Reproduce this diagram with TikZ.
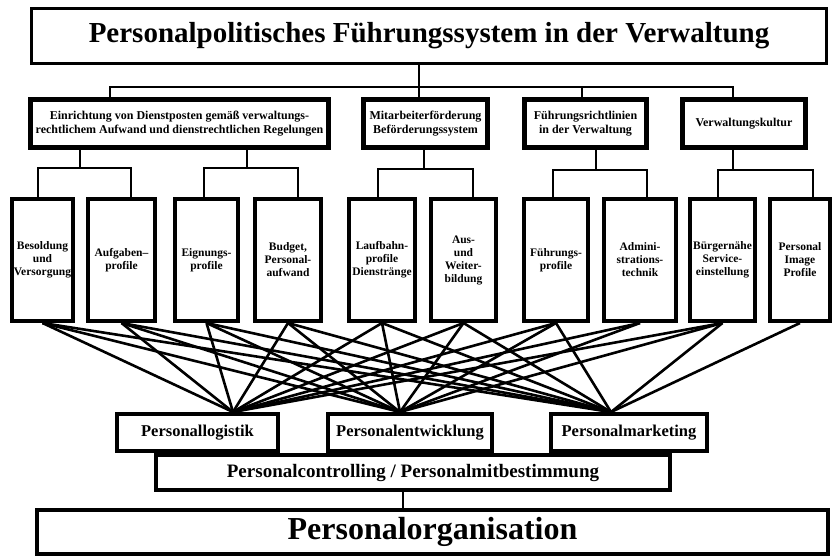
\documentclass[tikz,border=0pt]{standalone}
\usepackage{fontspec}
\setmainfont{Liberation Serif}
\begin{document}
\begin{tikzpicture}[x=1pt,y=-1pt,
  box/.style={draw, fill=white, inner sep=0pt, align=center, font=\bfseries},
  tall/.style={box, line width=4pt, minimum height=122pt, font=\fontsize{11.5}{13}\selectfont\bfseries},
  grp/.style={box, line width=5pt, minimum height=48pt, font=\fontsize{12}{14}\selectfont\bfseries},
  low/.style={box, line width=4pt, minimum height=37pt, font=\fontsize{16.5}{18}\selectfont\bfseries},
  br/.style={line width=1.2pt},
  net/.style={line width=2.6pt},
]
\useasboundingbox (0,0) rectangle (838,558);

% title
\node[box, line width=3pt, minimum width=795pt, minimum height=55pt,
      font=\fontsize{29}{32}\selectfont\bfseries] (title) at (429,36)
      {Personalpolitisches Führungssystem in der Verwaltung};

% group boxes
\node[grp, minimum width=298pt] (g1) at (179.5,123.5)
  {Einrichtung von Dienstposten gemäß verwaltungs-\\rechtlichem Aufwand und dienstrechtlichen Regelungen};
\node[grp, minimum width=124pt] (g2) at (425.5,123.5) {Mitarbeiterförderung\\Beförderungssystem};
\node[grp, minimum width=122pt] (g3) at (585.5,123.5) {Führungsrichtlinien\\in der Verwaltung};
\node[grp, minimum width=123pt] (g4) at (744,123.5) {Verwaltungskultur};

% tall boxes
\node[tall, minimum width=61pt] (b1) at (42.5,260) {Besoldung\\und\\Versorgung};
\node[tall, minimum width=67pt] (b2) at (121.5,260) {Aufgaben--\\profile};
\node[tall, minimum width=63pt] (b3) at (206.5,260) {Eignungs-\\profile};
\node[tall, minimum width=66pt] (b4) at (288,260) {Budget,\\Personal-\\aufwand};
\node[tall, minimum width=66pt] (b5) at (382,260) {Laufbahn-\\profile\\Dienstränge};
\node[tall, minimum width=65pt] (b6) at (463.5,260) {Aus-\\und\\Weiter-\\bildung};
\node[tall, minimum width=64pt] (b7) at (556,260) {Führungs-\\profile};
\node[tall, minimum width=72pt] (b8) at (640,260) {Admini-\\strations-\\technik};
\node[tall, minimum width=65pt] (b9) at (722.5,260) {Bürgernähe\\Service-\\einstellung};
\node[tall, minimum width=60pt] (b10) at (800,260) {Personal\\Image\\Profile};

% title -> groups
\coordinate (t0) at (419,87);
\coordinate (d1) at ([xshift=-69.5pt]g1.north);
\coordinate (d3) at ([xshift=-3.5pt]g3.north);
\coordinate (d4) at ([xshift=-11pt]g4.north);
\draw[br] (title.south -| t0) -- (t0 |- g2.north);
\draw[br] (d1) |- (d4 |- t0) -- (d4);
\draw[br] (d3) -- (d3 |- t0);

% groups -> tall boxes
\coordinate (j1) at (80,168);
\coordinate (j2) at (247,168);
\coordinate (j3) at (424,169);
\coordinate (j4) at (596,170);
\coordinate (j5) at (733,170);
\draw[br] (j1 |- g1.south) -- (j1);
\draw[br] (j2 |- g1.south) -- (j2);
\draw[br] (j3 |- g2.south) -- (j3);
\draw[br] (j4 |- g3.south) -- (j4);
\draw[br] (j5 |- g4.south) -- (j5);
\draw[br] ([xshift=-4.5pt]b1.north) |- (j1) -| ([xshift=9.5pt]b2.north);
\draw[br] ([xshift=-2.5pt]b3.north) |- (j2) -| ([xshift=10pt]b4.north);
\draw[br] ([xshift=-4pt]b5.north) |- (j3) -| ([xshift=9.5pt]b6.north);
\draw[br] ([xshift=-3pt]b7.north) |- (j4) -| ([xshift=7pt]b8.north);
\draw[br] ([xshift=-4.5pt]b9.north) |- (j5) -| ([xshift=13pt]b10.north);

% bottom part
\node[box, line width=4pt, minimum width=514pt, minimum height=35pt,
      font=\fontsize{19}{21}\selectfont\bfseries] (ctrl) at (413,472.5)
      {Personalcontrolling / Personalmitbestimmung};
\node[low, minimum width=161pt] (logi) at (197.5,432.5) {Personallogistik};
\node[low, minimum width=164pt] (entw) at (410,432.5) {Personalentwicklung};
\node[low, minimum width=156pt] (mark) at (629,432.5) {Personalmarketing};
\node[box, line width=3.5pt, minimum width=791pt, minimum height=44pt,
      font=\fontsize{32}{34}\selectfont\bfseries] (org) at (432.5,532)
      {Personalorganisation};
\coordinate (v0) at (403,0);
\draw[line width=1.6pt] (ctrl.south -| v0) -- (org.north -| v0);

% network
\coordinate (pL) at ([xshift=35.5pt]logi.north);
\coordinate (pE) at ([xshift=-10pt]entw.north);
\coordinate (pM) at ([xshift=-18pt]mark.north);
\foreach \b in {b1,b2,b3,b4,b5,b6,b7,b8,b9}{
  \draw[net] (\b.south) -- (pL);
  \draw[net] (\b.south) -- (pE);
}
\foreach \b in {b1,b2,b3,b4,b5,b6,b7,b9,b10}{
  \draw[net] (\b.south) -- (pM);
}
\end{tikzpicture}
\end{document}
